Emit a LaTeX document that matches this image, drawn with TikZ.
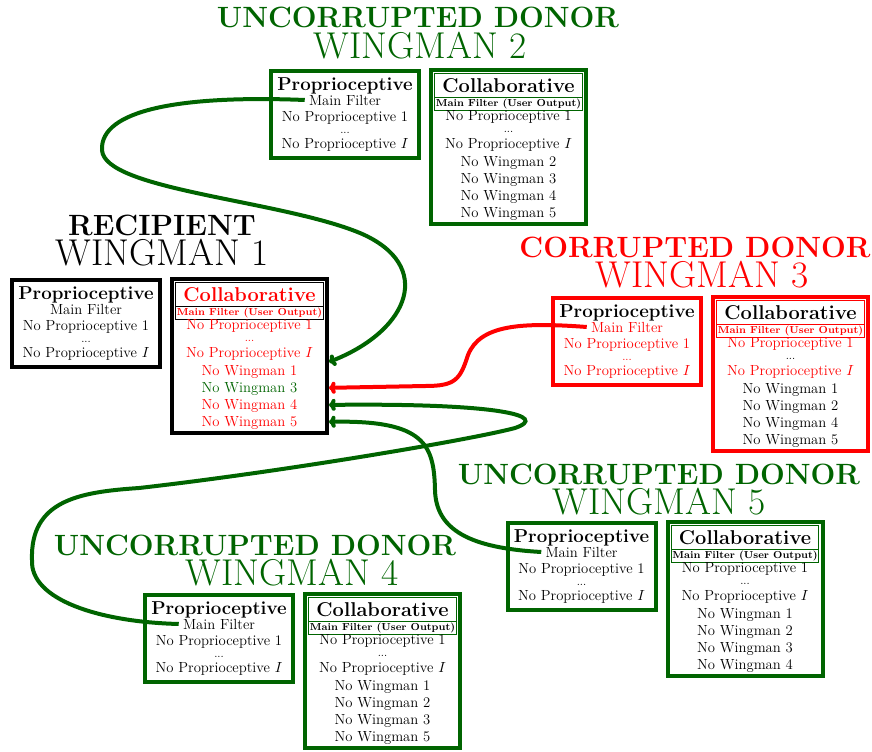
\documentclass[tikz,border=0pt]{standalone}
\usepackage{fontspec}
\usetikzlibrary{calc,positioning,fit,arrows.meta}

\definecolor{wgreen}{RGB}{0,100,0}

\tikzstyle{role} = [anchor=base, inner sep=0pt,
    font=\fontsize{22}{24}\selectfont\bfseries]
\tikzstyle{wname} = [anchor=base, inner sep=0pt,
    font=\fontsize{28}{30}\selectfont]
\tikzstyle{phead} = [anchor=base, inner sep=0pt,
    font=\fontsize{14}{15}\selectfont\bfseries]
\tikzstyle{pmain} = [anchor=base, inner xsep=3pt, inner ysep=0pt]
\tikzstyle{plist} = [anchor=north, inner sep=0pt, align=center]
\tikzstyle{pbox} = [draw, line width=3pt, inner sep=0pt,
    minimum width=111pt, minimum height=65.25pt]
\tikzstyle{crow} = [draw, line width=0.9pt, inner sep=0pt, outer sep=0pt,
    minimum width=110.75pt]
\tikzstyle{chead} = [crow, minimum height=18pt,
    font=\fontsize{15}{16}\selectfont\bfseries]
\tikzstyle{cmain} = [crow, minimum height=9.75pt,
    font=\fontsize{7.6}{9}\selectfont\bfseries]
\tikzstyle{clist} = [inner sep=0pt, outer sep=0pt, align=center,
    minimum width=110.75pt, minimum height=82.5pt]
\tikzstyle{cbox} = [draw, line width=3pt, inner sep=2.75pt]
\tikzstyle{relay} = [line width=3pt, -{To[length=5pt,width=9pt]}]

\newcommand{\proplines}{No Proprioceptive 1\\[-4pt]{\footnotesize...}\\[-1pt]No Proprioceptive $I$}
\newcommand{\wingmen}[4]{\proplines\\[0.75pt]No Wingman #1\\No Wingman #2\\No Wingman #3\\No Wingman #4}

\begin{document}
\begin{tikzpicture}[x=0.75pt, y=-0.75pt, font=\fontsize{11}{12.75}\selectfont]
\useasboundingbox (0,0) rectangle (872,751);

% wingman 2, top
\node (w2role) [role, wgreen] at (418,27) {UNCORRUPTED DONOR};
\node (w2name) [wname, wgreen] at (420,58) {WINGMAN 2};
\node (w2ph) [phead] at (345,90) {Proprioceptive};
\node (w2pm) [pmain] at ($(w2ph.base)+(0,-11.25pt)$) {Main Filter};
\node (w2pl) [plist] at ($(w2pm.base)+(0,-4.7pt)$) {\proplines};
\node (w2p) [pbox, draw=wgreen, fit=(w2ph)(w2pl)] {};
\node (w2ch) [chead, draw=wgreen, anchor=north west] at ($(w2p.north east)+(10.25pt,-3.5pt)$) {Collaborative};
\node (w2cm) [cmain, draw=wgreen, below=0pt of w2ch] {Main Filter (User Output)};
\node (w2cl) [clist, below=0pt of w2cm] {\wingmen{2}{3}{4}{5}};
\node (w2c) [cbox, draw=wgreen, fit=(w2ch)(w2cl)] {};

% recipient
\node (w1role) [role] at (162,235) {RECIPIENT};
\node (w1name) [wname] at (162,265) {WINGMAN 1};
\node (w1ph) [phead] at (86,299) {Proprioceptive};
\node (w1pm) [pmain] at ($(w1ph.base)+(0,-11.25pt)$) {Main Filter};
\node (w1pl) [plist] at ($(w1pm.base)+(0,-4.7pt)$) {\proplines};
\node (w1p) [pbox, draw=black, fit=(w1ph)(w1pl)] {};
\node (w1ch) [chead, draw=black, text=red, anchor=north west] at ($(w1p.north east)+(10.25pt,-3.5pt)$) {Collaborative};
\node (w1cm) [cmain, draw=black, text=red, below=0pt of w1ch] {Main Filter (User Output)};
\node (w1cl) [clist, text=red, below=0pt of w1cm] {\proplines\\[0.75pt]No Wingman 1\\\textcolor{wgreen}{No Wingman 3}\\No Wingman 4\\No Wingman 5};
\node (w1c) [cbox, draw=black, fit=(w1ch)(w1cl)] {};

% wingman 3, corrupted
\node (w3role) [role, red] at (695,257) {CORRUPTED DONOR};
\node (w3name) [wname, red] at (702,287) {WINGMAN 3};
\node (w3ph) [phead] at (627,317) {Proprioceptive};
\node (w3pm) [pmain, red] at ($(w3ph.base)+(0,-11.25pt)$) {Main Filter};
\node (w3pl) [plist, red] at ($(w3pm.base)+(0,-4.7pt)$) {\proplines};
\node (w3p) [pbox, draw=red, fit=(w3ph)(w3pl)] {};
\node (w3ch) [chead, draw=red, anchor=north west] at ($(w3p.north east)+(10.25pt,-3.5pt)$) {Collaborative};
\node (w3cm) [cmain, draw=red, text=red, below=0pt of w3ch] {Main Filter (User Output)};
\node (w3cl) [clist, below=0pt of w3cm] {\textcolor{red}{No Proprioceptive 1}\\[-4pt]{\footnotesize...}\\[-1pt]\textcolor{red}{No Proprioceptive $I$}\\[0.75pt]No Wingman 1\\No Wingman 2\\No Wingman 4\\No Wingman 5};
\node (w3c) [cbox, draw=red, fit=(w3ch)(w3cl)] {};

% wingman 5
\node (w5role) [role, wgreen] at (659,484) {UNCORRUPTED DONOR};
\node (w5name) [wname, wgreen] at (659,514) {WINGMAN 5};
\node (w5ph) [phead] at (581.5,542) {Proprioceptive};
\node (w5pm) [pmain] at ($(w5ph.base)+(0,-11.25pt)$) {Main Filter};
\node (w5pl) [plist] at ($(w5pm.base)+(0,-4.7pt)$) {\proplines};
\node (w5p) [pbox, draw=wgreen, fit=(w5ph)(w5pl)] {};
\node (w5ch) [chead, draw=wgreen, anchor=north west] at ($(w5p.north east)+(10.25pt,-3.5pt)$) {Collaborative};
\node (w5cm) [cmain, draw=wgreen, below=0pt of w5ch] {Main Filter (User Output)};
\node (w5cl) [clist, below=0pt of w5cm] {\wingmen{1}{2}{3}{4}};
\node (w5c) [cbox, draw=wgreen, fit=(w5ch)(w5cl)] {};

% wingman 4
\node (w4role) [role, wgreen] at (255,555) {UNCORRUPTED DONOR};
\node (w4name) [wname, wgreen] at (292,585) {WINGMAN 4};
\node (w4ph) [phead] at (219,614) {Proprioceptive};
\node (w4pm) [pmain] at ($(w4ph.base)+(0,-11.25pt)$) {Main Filter};
\node (w4pl) [plist] at ($(w4pm.base)+(0,-4.7pt)$) {\proplines};
\node (w4p) [pbox, draw=wgreen, fit=(w4ph)(w4pl)] {};
\node (w4ch) [chead, draw=wgreen, anchor=north west] at ($(w4p.north east)+(10.25pt,-3.5pt)$) {Collaborative};
\node (w4cm) [cmain, draw=wgreen, below=0pt of w4ch] {Main Filter (User Output)};
\node (w4cl) [clist, below=0pt of w4cm] {\wingmen{1}{2}{3}{5}};
\node (w4c) [cbox, draw=wgreen, fit=(w4ch)(w4cl)] {};

% donor filters into the recipient
\coordinate (w1in) at (w1c.east |- w1cl.center);

\draw[relay, wgreen] (w2pm.west) .. controls (180,95) and (100,110) .. (102,150)
    .. controls (104,190) and (280,200) .. (360,233)
    .. controls (435,265) and (410,330) .. ([yshift=9.5pt]w1in);
\draw[relay, red] (w3pm.west) .. controls (520,322) and (480,325) .. (468,355)
    .. controls (460,380) and (455,386) .. (425,386) -- ([yshift=-9.9pt]w1in);
\draw[relay, wgreen] (w4pm.west) .. controls (100,622) and (30,600) .. (32,560)
    .. controls (30,500) and (80,492) .. (139,488)
    .. controls (280,472) and (470,440) .. (515,428)
    .. controls (550,416) and (500,403) .. ([yshift=-22.7pt]w1in);
\draw[relay, wgreen] (w5pm.west) .. controls (470,548) and (436,530) .. (435,490)
    .. controls (434,445) and (425,420) .. ([yshift=-35.4pt]w1in);

%\draw[red] (0,0) rectangle (872,751);
\end{tikzpicture}
\end{document}
